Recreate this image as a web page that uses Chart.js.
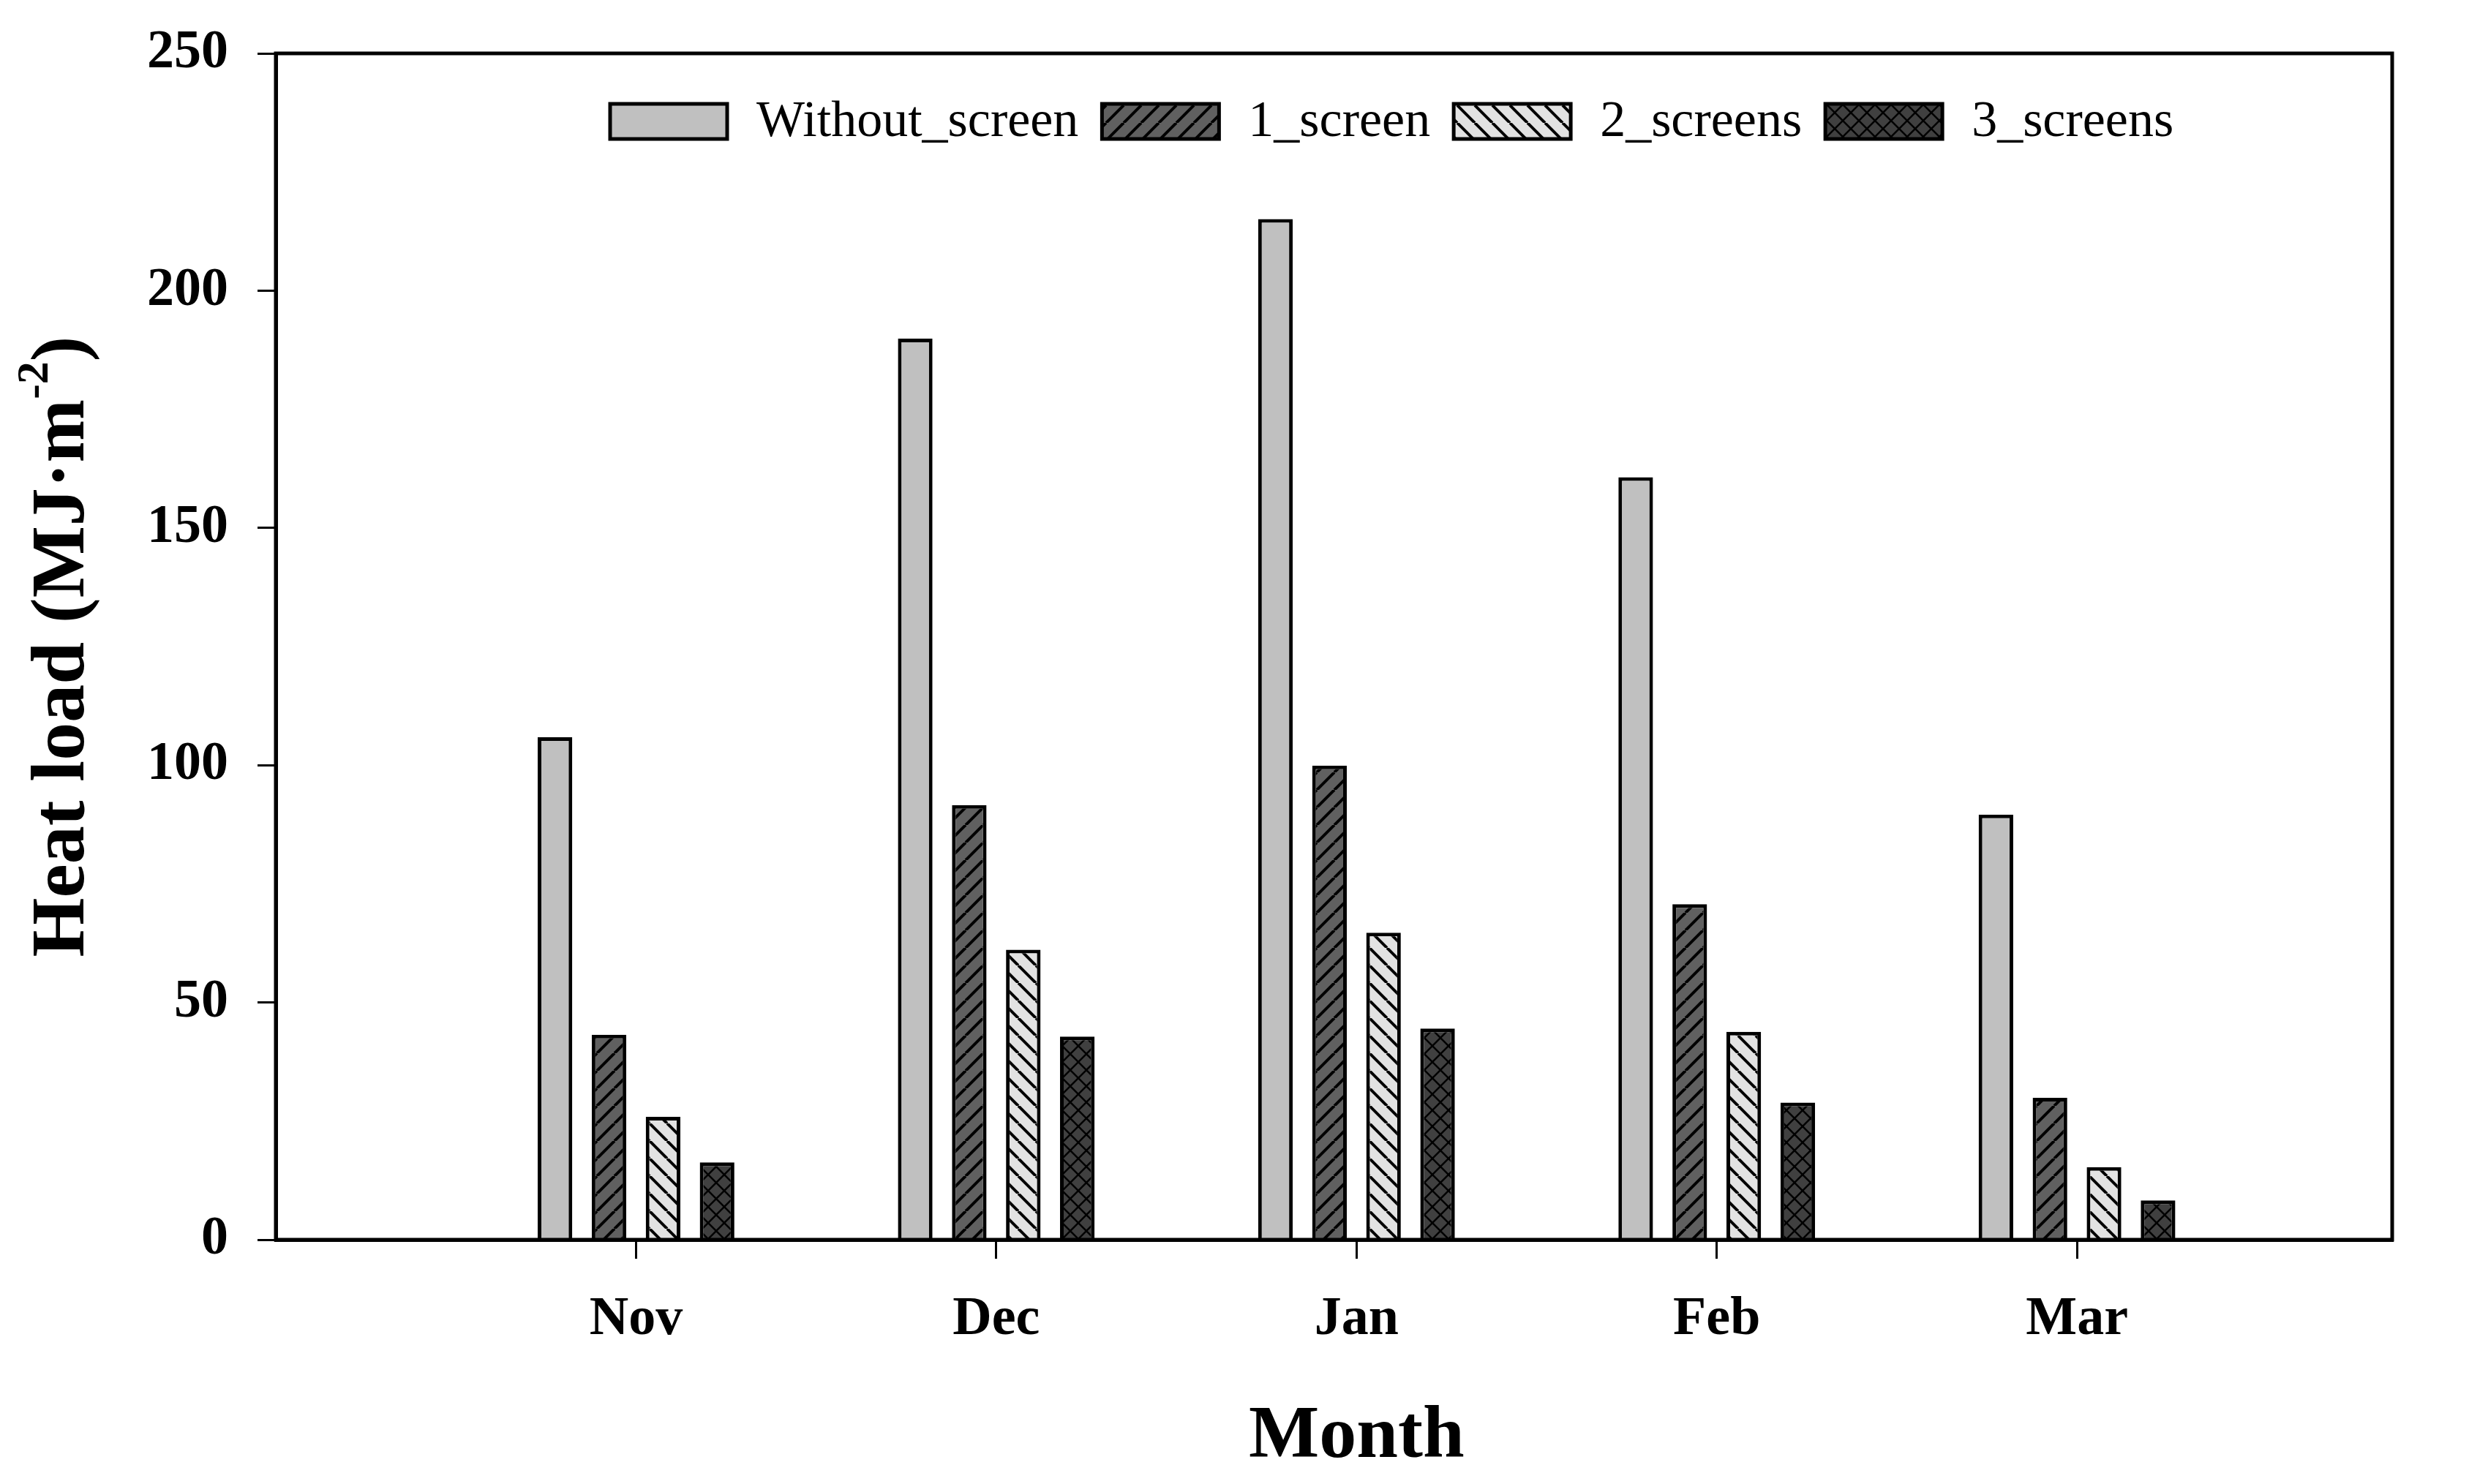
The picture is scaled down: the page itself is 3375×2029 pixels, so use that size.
<!DOCTYPE html>
<html>
<head>
<meta charset="utf-8">
<title>Heat load per month</title>
<script src="https://cdn.jsdelivr.net/npm/chart.js@4.4.1/dist/chart.umd.min.js"></script>
<style>
    html, body { margin: 0; padding: 0; background: #fff; }
    canvas { display: block; }
</style>
</head>
<body>
<canvas id="heatChart" width="3375" height="2029"></canvas>
<script>
// --- data
const months = ["Nov", "Dec", "Jan", "Feb", "Mar"];
const seriesNames = ["Without_screen", "1_screen", "2_screens", "3_screens"];
const withoutScreen = [105.9, 189.9, 215.1, 160.7, 89.6];
const oneScreen     = [43.2, 91.6, 99.9, 70.7, 29.9];
const twoScreens    = [25.9, 61.1, 64.7, 43.8, 15.3];
const threeScreens  = [16.3, 42.8, 44.5, 28.9, 8.3];
const yTicks = [0, 50, 100, 150, 200, 250];

const FONT = "'Liberation Serif', 'Times New Roman', serif";

// hatch fills like the SigmaPlot ones
function makePattern(fill, kind) {
    const size = kind === "cross" ? 22 : 24;
    const c = document.createElement("canvas");
    c.width = size;
    c.height = size;
    const g = c.getContext("2d");
    g.fillStyle = fill;
    g.fillRect(0, 0, size, size);
    if (kind === "none") return g.createPattern(c, "repeat");
    g.strokeStyle = "#000";
    g.lineWidth = kind === "cross" ? 2.5 : 4;
    g.beginPath();
    for (const o of [-size, 0, size]) {
        if (kind === "up" || kind === "cross") {
            g.moveTo(o, size);
            g.lineTo(o + size, 0);
        }
        if (kind === "down" || kind === "cross") {
            g.moveTo(o, 0);
            g.lineTo(o + size, size);
        }
    }
    g.stroke();
    return g.createPattern(c, "repeat");
}

const fills = [
    makePattern("#c0c0c0", "none"),
    makePattern("#606060", "up"),
    makePattern("#e2e2e2", "down"),
    makePattern("#404040", "cross")
];
const seriesValues = [withoutScreen, oneScreen, twoScreens, threeScreens];

// legend drawn inside the plot, along the top
const insideLegend = {
    id: "insideLegend",
    afterDatasetsDraw(chart) {
        const { ctx, chartArea } = chart;
        let x = chartArea.left + 457;
        const y = chartArea.top + 93;
        ctx.save();
        ctx.font = `70px ${FONT}`;
        ctx.textBaseline = "middle";
        ctx.textAlign = "left";
        chart.data.datasets.forEach(ds => {
            ctx.fillStyle = ds.backgroundColor;
            ctx.fillRect(x, y - 24, 160, 48);
            ctx.lineWidth = 5;
            ctx.strokeStyle = "#000";
            ctx.strokeRect(x, y - 24, 160, 48);
            x += 160 + 40;
            ctx.fillStyle = "#000";
            ctx.fillText(ds.label, x, y + 2);
            x += ctx.measureText(ds.label).width + 32;
        });
        ctx.restore();
    }
};

// closed frame, x title under the middle month, rotated y title with superscript
const frameAndTitle = {
    id: "frameAndTitle",
    afterDraw(chart) {
        const { ctx, chartArea } = chart;
        ctx.save();
        ctx.strokeStyle = "#000";
        ctx.lineWidth = 5;
        ctx.strokeRect(chartArea.left, chartArea.top, chartArea.right - chartArea.left, chartArea.bottom - chartArea.top);

        ctx.fillStyle = "#000";
        ctx.font = `bold 102px ${FONT}`;
        ctx.textAlign = "center";
        ctx.textBaseline = "middle";
        ctx.fillText("Month", chart.scales.x.getPixelForValue(3), 1966);

        const main = "Heat load (MJ·m", sup = "-2", tail = ")";
        const big = `bold 104px ${FONT}`, small = `bold 62px ${FONT}`;
        ctx.translate(87, (chartArea.top + chartArea.bottom) / 2);
        ctx.rotate(-Math.PI / 2);
        ctx.textAlign = "left";
        ctx.font = big;
        const w1 = ctx.measureText(main).width;
        const w3 = ctx.measureText(tail).width;
        ctx.font = small;
        const w2 = ctx.measureText(sup).width;
        let tx = -(w1 + w2 + w3) / 2;
        ctx.font = big;
        ctx.fillText(main, tx, 0);
        tx += w1;
        ctx.font = small;
        ctx.fillText(sup, tx, -38);
        tx += w2;
        ctx.font = big;
        ctx.fillText(tail, tx, 0);
        ctx.restore();
    }
};

new Chart(document.getElementById("heatChart"), {
    type: "bar",
    data: {
        datasets: seriesValues.map((vals, k) => ({
            label: seriesNames[k],
            data: vals.map((v, i) => ({ x: i + 1, y: v })),
            backgroundColor: fills[k],
            borderColor: "#000",
            borderWidth: 5,
            barPercentage: 0.64,
            categoryPercentage: 0.6
        }))
    },
    options: {
        responsive: false,
        animation: false,
        devicePixelRatio: 1,
        layout: { padding: { top: 73, right: 105, left: 0, bottom: 0 } },
        plugins: {
            legend: { display: false },
            tooltip: { enabled: false }
        },
        scales: {
            x: {
                type: "linear",
                min: 0,
                max: 5.875,
                offset: false,
                afterBuildTicks: s => { s.ticks = months.map((m, i) => ({ value: i + 1 })); },
                afterFit: s => {
                    s.height = 334;
                    s.paddingLeft = 0;
                    s.paddingRight = 0;
                },
                grid: { offset: false, drawOnChartArea: false, tickLength: 26, lineWidth: 3, color: "#000" },
                border: { display: true, color: "#000", width: 5 },
                ticks: {
                    callback: v => months[v - 1] || "",
                    autoSkip: false,
                    maxRotation: 0,
                    padding: 39,
                    color: "#000",
                    font: { family: FONT, size: 74, weight: "bold" }
                }
            },
            y: {
                min: 0,
                max: 250,
                afterBuildTicks: s => { s.ticks = yTicks.map(v => ({ value: v })); },
                afterFit: s => {
                    s.width = 377;
                    s.paddingTop = 0;
                    s.paddingBottom = 0;
                },
                grid: { drawOnChartArea: false, tickLength: 25, lineWidth: 3, color: "#000" },
                border: { display: true, color: "#000", width: 5 },
                ticks: {
                    padding: 40,
                    color: "#000",
                    font: { family: FONT, size: 74, weight: "bold" }
                }
            }
        }
    },
    plugins: [insideLegend, frameAndTitle]
});
</script>
</body>
</html>
